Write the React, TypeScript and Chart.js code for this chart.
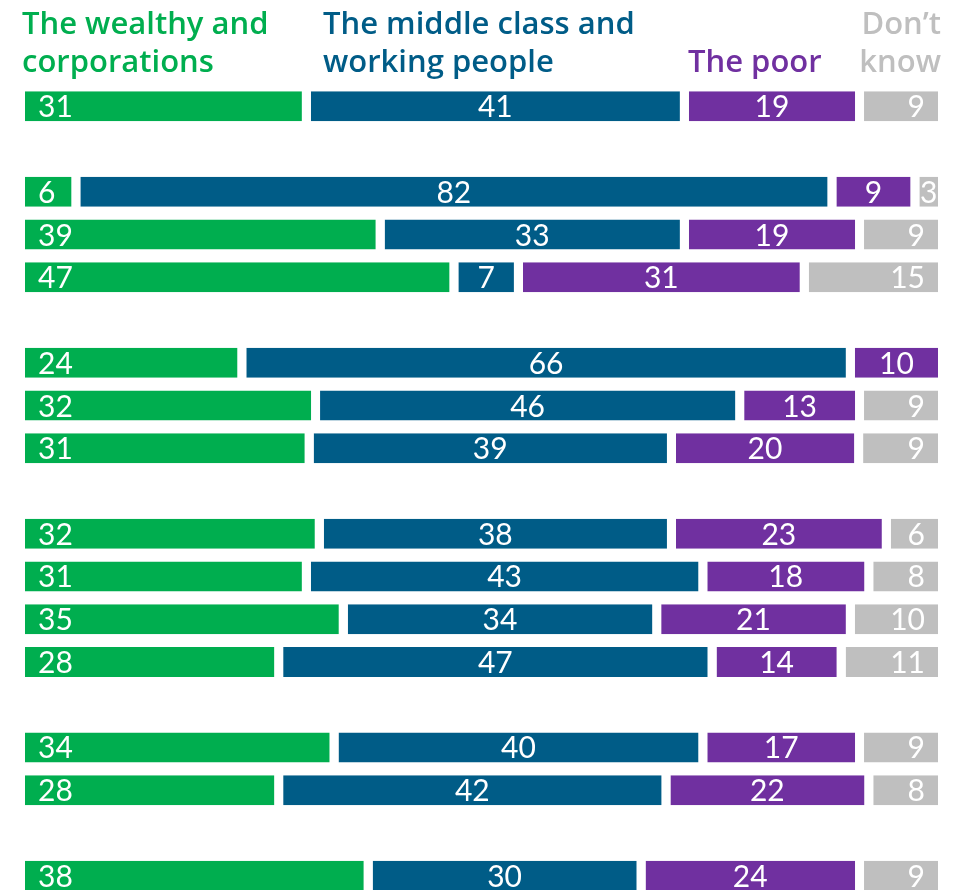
import React, { useEffect, useRef } from "react";
import { Chart, registerables } from "chart.js";

Chart.register(...registerables);

// ---- Data ----
const categories = ["A1", "", "B1", "B2", "B3", " ", "C1", "C2", "C3", "  ", "D1", "D2", "D3", "D4", "   ", "E1", "E2", "    ", "F1"];
const wealthy = [31, null, 6, 39, 47, null, 24, 32, 31.3, null, 32.4, 31, 35, 28, null, 34, 28, null, 37.7];
const middle = [41, null, 82, 33, 7, null, 66, 46, 39.3, null, 38.2, 43, 34, 47, null, 40, 42, null, 29.6];
const poor = [19, null, 9, 19, 31, null, 10, 13, 20.3, null, 23.3, 18, 21, 14, null, 17, 22, null, 23.7];
const dontKnow = [9, null, 3, 9, 15, null, 0, 9, 9.1, null, 6.1, 8, 10, 11, null, 9, 8, null, 9];

const seriesHeaders = [
  ["The wealthy and", "corporations"],
  ["The middle class and", "working people"],
  ["The poor"],
  ["Don\u2019t", "know"],
];

const COLORS = ["#00ae4f", "#005c87", "#7030a0", "#bfbfbf"];
const GAP = 9;
const W = 967;
const H = 910;

// header placement (x, align, baselines)
const headerLayout = [
  { x: 22, align: "left", baselines: [34, 72] },
  { x: 323, align: "left", baselines: [34, 72] },
  { x: 688, align: "left", baselines: [72] },
  { x: 941, align: "right", baselines: [34, 72] },
];

const labelPlugin = {
  id: "segLabels",
  afterDatasetsDraw(chart: any) {
    const ctx = chart.ctx;
    ctx.save();
    ctx.font = "30px Lato";
    ctx.fillStyle = "#ffffff";
    ctx.textBaseline = "alphabetic";
    chart.data.datasets.forEach((ds: any, di: number) => {
      const meta = chart.getDatasetMeta(di);
      meta.data.forEach((el: any, i: number) => {
        const v = ds.data[i];
        if (v == null || v <= 0) return;
        const left = Math.min(el.base, el.x);
        const right = Math.max(el.base, el.x) - GAP;
        const txt = String(Math.round(v));
        const w = ctx.measureText(txt).width;
        const pad = 13;
        let x: number;
        let align: string;
        if (di === 0) {
          align = "left";
          x = left + pad;
        } else if (di === 3 && right - left >= w + 2 * pad) {
          align = "right";
          x = right - pad;
        } else {
          align = "center";
          x = (left + right) / 2;
        }
        ctx.textAlign = align;
        ctx.fillText(txt, x, el.y + 11);
      });
    });
    ctx.font = "600 31px 'Open Sans'";
    seriesHeaders.forEach((lines, si) => {
      const hl = headerLayout[si];
      ctx.fillStyle = COLORS[si];
      ctx.textAlign = hl.align;
      lines.forEach((line, li) => {
        ctx.fillText(line, hl.x, hl.baselines[li]);
      });
    });
    ctx.restore();
  },
};

export default function App() {
  const ref = useRef<HTMLCanvasElement>(null);
  useEffect(() => {
    if (!ref.current) return;
    const series = [wealthy, middle, poor, dontKnow];
    const chart = new Chart(ref.current, {
      type: "bar",
      data: {
        labels: categories,
        datasets: series.map((d, i) => ({
          label: seriesHeaders[i].join(" "),
          data: d,
          backgroundColor: COLORS[i],
          borderColor: "#ffffff",
          borderWidth: { top: 0, left: 0, bottom: 0, right: GAP },
          borderSkipped: false,
          barThickness: 30,
          inflateAmount: 0,
        })),
      },
      options: {
        indexAxis: "y",
        responsive: false,
        animation: false,
        layout: { padding: { left: 25, right: 20, top: 85, bottom: H - 897 } },
        scales: {
          x: { stacked: true, min: 0, max: 100, display: false },
          y: { stacked: true, display: false },
        },
        plugins: {
          legend: { display: false },
          tooltip: { enabled: false },
        },
      },
      plugins: [labelPlugin],
    } as any);
    return () => chart.destroy();
  }, []);
  return (
    <div style={{ position: "absolute", left: 0, top: 0, width: W, height: 890, overflow: "hidden", background: "#fff" }}>
      <canvas ref={ref} width={W} height={H} style={{ width: W, height: H, display: "block" }} />
    </div>
  );
}
